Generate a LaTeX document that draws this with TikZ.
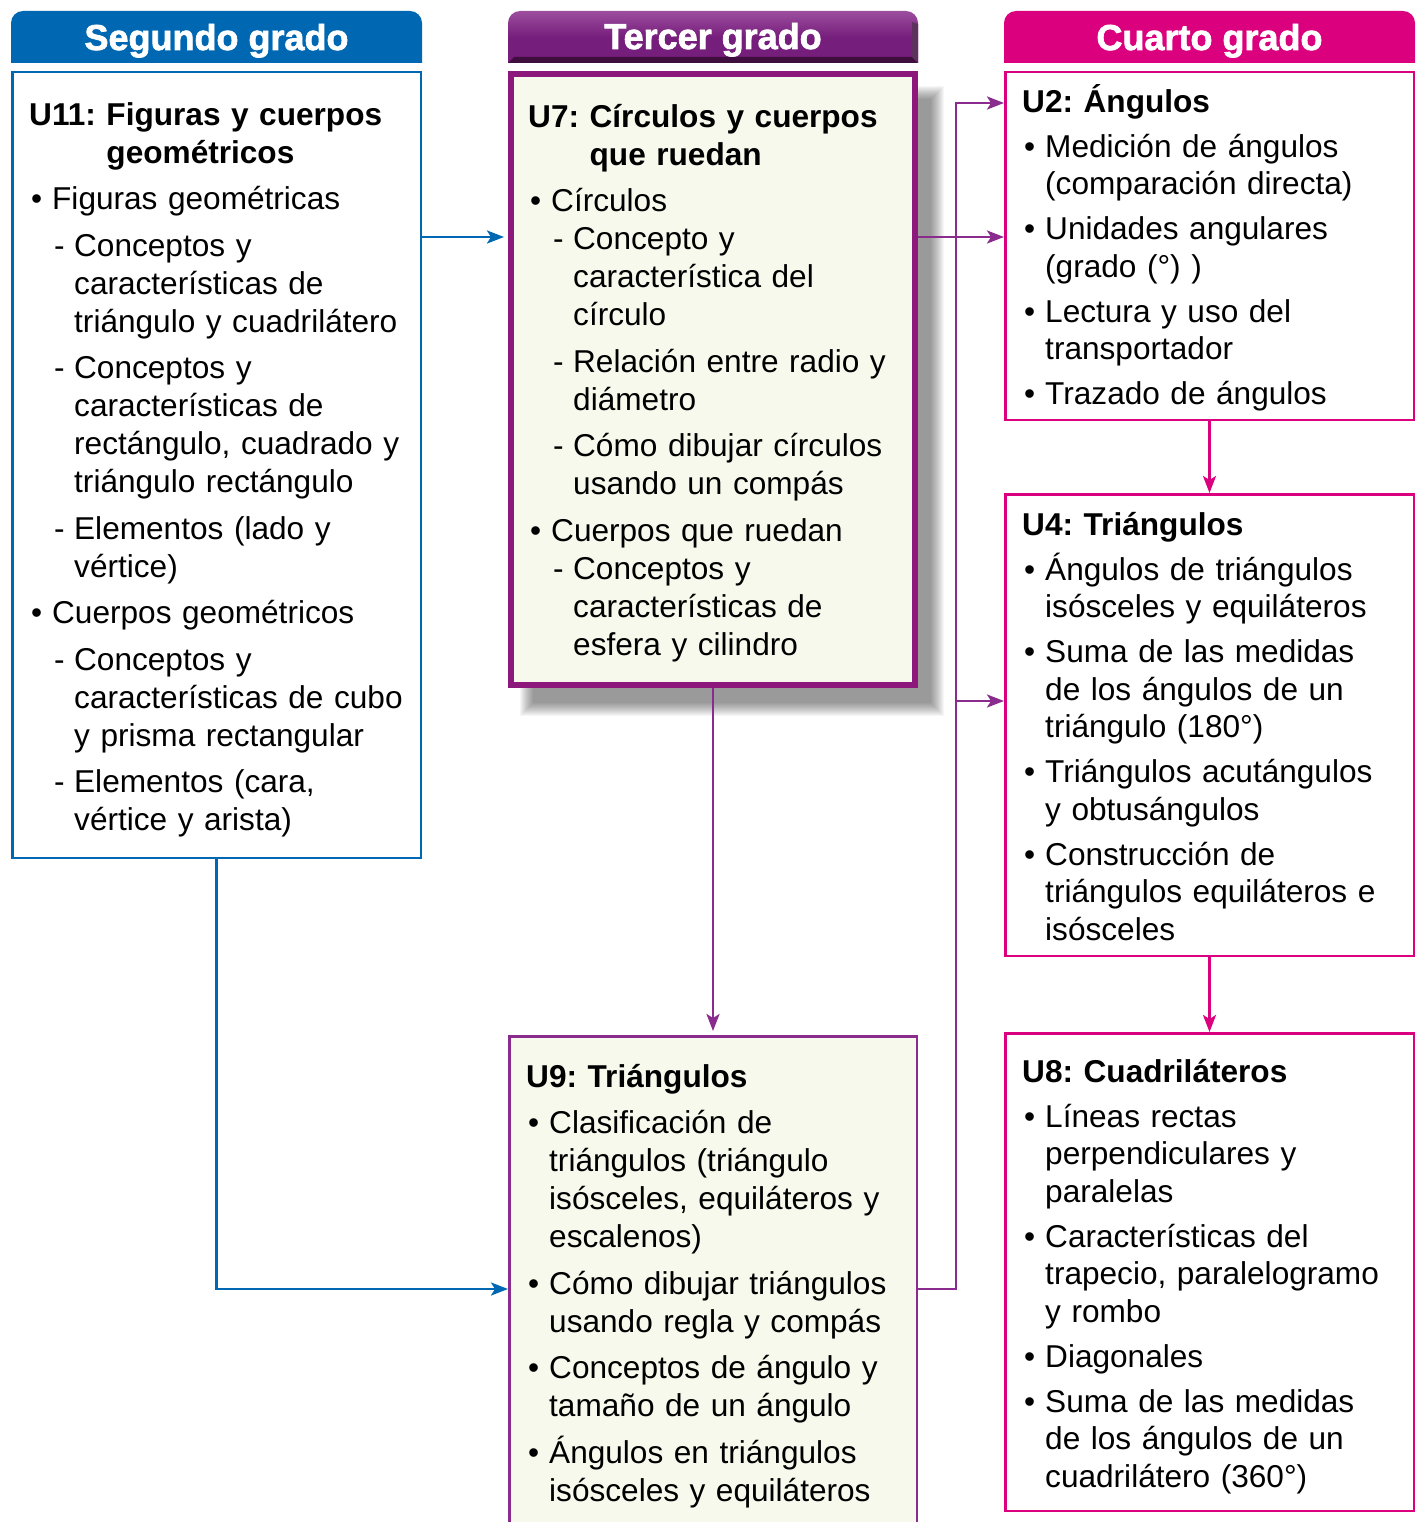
\documentclass[tikz,border=0pt]{standalone}
\usepackage{fontspec}
\setmainfont{Liberation Sans}
\newfontfamily\hdrfont[FakeBold=2]{Liberation Sans Bold}
\usepackage{tikz}
\usetikzlibrary{arrows.meta,positioning,calc}
\usepackage{xcolor}
\definecolor{cSeg}{RGB}{0,104,178}
\definecolor{cTer}{RGB}{118,30,124}
\definecolor{cTerDark}{RGB}{64,14,62}
\definecolor{cTerLight}{RGB}{156,78,158}
\definecolor{cCua}{RGB}{219,0,126}
\definecolor{cBox}{RGB}{140,24,124}
\definecolor{cLink}{RGB}{138,44,142}
\definecolor{cCream}{RGB}{247,249,237}

% unit title with hanging second line, bullet and dash items
\newlength{\itemgap}
\newcommand{\unit}[2]{\setbox0=\hbox{\bfseries #1\ }\hangindent=\wd0 \hangafter=1 \noindent\rule{0pt}{31pt}\box0{\bfseries #2}\par}
\newcommand{\itm}[1]{\par\vspace{\itemgap}\hangindent=23pt \hangafter=1 \noindent\makebox[23pt][l]{\hspace*{2pt}\textbullet}#1\par}
\newcommand{\subtight}[1]{\par\hangindent=45pt \hangafter=1 \noindent\hspace*{25pt}\makebox[20pt][l]{-}#1\par}
\newcommand{\subitm}[1]{\par\vspace{\itemgap}\subtight{#1}}

\begin{document}
\begin{tikzpicture}[x=1pt, y=-1pt,
  box/.style={draw, line width=2.5pt, inner sep=0, anchor=north west},
  txt/.style={anchor=north west, inner sep=0, text width=400pt, align=left,
    font=\fontsize{31.6}{38}\selectfont,
    execute at begin node={\setlength{\parskip}{0pt}\setlength{\itemgap}{8.5pt}}},
  txtR/.style={txt, font=\fontsize{31.6}{37.5}\selectfont,
    execute at begin node={\setlength{\itemgap}{7.5pt}}},
  hdr/.style={anchor=base, inner sep=0, text=white, font=\hdrfont\fontsize{36}{40}\selectfont},
  linkB/.style={draw=cSeg, line width=2.8pt, -{Stealth[length=17pt,width=13pt,inset=4pt]}},
  linkP/.style={draw=cLink, line width=2.6pt, -{Stealth[length=17pt,width=13pt,inset=4pt]}},
  linkM/.style={draw=cCua, line width=2.6pt, -{Stealth[length=17pt,width=13pt,inset=4pt]}}]
  \clip (0,0) rectangle (1418,1522);

  % Headers
  \fill[cSeg] (11,63) [rounded corners=12] -- (11,11) -- (422,11) [sharp corners] -- (422,63) -- cycle;
  \shade[top color=cTerLight, bottom color=cTer, middle color=cTer] (508,63) [rounded corners=12] -- (508,11) -- (918,11) [sharp corners] -- (918,63) -- cycle;
  \fill[cTerDark] (508,63) -- (514,57) -- (912,57) -- (918,63) -- cycle;
  \fill[cTerDark!85] (918,63) -- (912,57) -- (912,22) -- (918,24) -- cycle;
  \fill[cCua] (1004,63) [rounded corners=12] -- (1004,11) -- (1415,11) [sharp corners] -- (1415,63) -- cycle;
  \node[hdr] (h2) at (216.5,50) {Segundo grado};
  \node[hdr] (h3) at (713,49) {Tercer grado};
  \node[hdr] (h4) at (1209.5,50) {Cuarto grado};

  % Shadow of U7
  \foreach \s in {0,1,...,13}
    \fill[black, opacity=0.035] (520+\s,86+\s) rectangle (944-\s,716-\s);

  % Boxes
  \node[box, draw=cSeg, fill=white, minimum width=408.5pt, minimum height=785.5pt] (u11) at (11,71) {};
  \node[box, draw=cBox, line width=6pt, fill=cCream, minimum width=404pt, minimum height=611pt] (u7) at (508,71) {};
  \node[box, draw=cLink, fill=cCream, minimum width=407.5pt, minimum height=507.5pt] (u9) at (508,1035) {};
  \node[box, draw=cCua, fill=white, minimum width=408.5pt, minimum height=347.5pt] (u2) at (1004,71) {};
  \node[box, draw=cCua, fill=white, minimum width=408.5pt, minimum height=461.5pt] (u4) at (1004,493) {};
  \node[box, draw=cCua, fill=white, minimum width=408.5pt, minimum height=477.5pt] (u8) at (1004,1032) {};

  % Texts
  \node[txt] (t11) at (29,94) {%
    \unit{U11:}{Figuras y cuerpos\newline geométricos}
    \itm{Figuras geométricas}
    \subitm{Conceptos y\newline características de\newline triángulo y cuadrilátero}
    \subitm{Conceptos y\newline características de\newline rectángulo, cuadrado y\newline triángulo rectángulo}
    \subitm{Elementos (lado y\newline vértice)}
    \itm{Cuerpos geométricos}
    \subitm{Conceptos y\newline características de cubo\newline y prisma rectangular}
    \subitm{Elementos (cara,\newline vértice y arista)}};
  \node[txt] (t7) at (528,96) {%
    \unit{U7:}{Círculos y cuerpos\newline que ruedan}
    \itm{Círculos}
    \subtight{Concepto y\newline característica del\newline círculo}
    \subitm{Relación entre radio y\newline diámetro}
    \subitm{Cómo dibujar círculos\newline usando un compás}
    \itm{Cuerpos que ruedan}
    \subtight{Conceptos y\newline características de\newline esfera y cilindro}};
  \node[txt] (t9) at (526,1056) {%
    \unit{U9:}{Triángulos}
    \itm{Clasificación de\newline triángulos (triángulo\newline isósceles, equiláteros y\newline escalenos)}
    \itm{Cómo dibujar triángulos\newline usando regla y compás}
    \itm{Conceptos de ángulo y\newline tamaño de un ángulo}
    \itm{Ángulos en triángulos\newline isósceles y equiláteros}};
  \node[txtR] (t2) at (1022,81) {%
    \unit{U2:}{Ángulos}
    \itm{Medición de ángulos\newline (comparación directa)}
    \itm{Unidades angulares\newline (grado (°) )}
    \itm{Lectura y uso del\newline transportador}
    \itm{Trazado de ángulos}};
  \node[txtR] (t4) at (1022,504) {%
    \unit{U4:}{Triángulos}
    \itm{Ángulos de triángulos\newline isósceles y equiláteros}
    \itm{Suma de las medidas\newline de los ángulos de un\newline triángulo (180°)}
    \itm{Triángulos acutángulos\newline y obtusángulos}
    \itm{Construcción de\newline triángulos equiláteros e\newline isósceles}};
  \node[txtR] (t8) at (1022,1051) {%
    \unit{U8:}{Cuadriláteros}
    \itm{Líneas rectas\newline perpendiculares y\newline paralelas}
    \itm{Características del\newline trapecio, paralelogramo\newline y rombo}
    \itm{Diagonales}
    \itm{Suma de las medidas\newline de los ángulos de un\newline cuadrilátero (360°)}};

  % Links
  \coordinate (r1) at (0,237);
  \coordinate (r2) at (0,103);
  \coordinate (r3) at (0,701);
  \coordinate (r4) at (0,1289);
  \coordinate (bus) at (956,0);
  \draw[linkB, shorten >=4pt] (u11.east |- r1) -- (u7.west |- r1);
  \draw[linkB] (u11.south) |- (u9.west |- r4);
  \draw[linkP] (u7.east |- r1) -- (u2.west |- r1);
  \draw[linkP, shorten >=4pt] (u7.south) -- (u9.north);
  \draw[linkP] (u9.east |- r4) -| (bus |- r2) -- (u2.west |- r2);
  \draw[linkP] (bus |- r3) -- (u4.west |- r3);
  \draw[linkM] (u2.south) -- (u4.north);
  \draw[linkM] (u4.south) -- (u8.north);
\end{tikzpicture}
\end{document}
